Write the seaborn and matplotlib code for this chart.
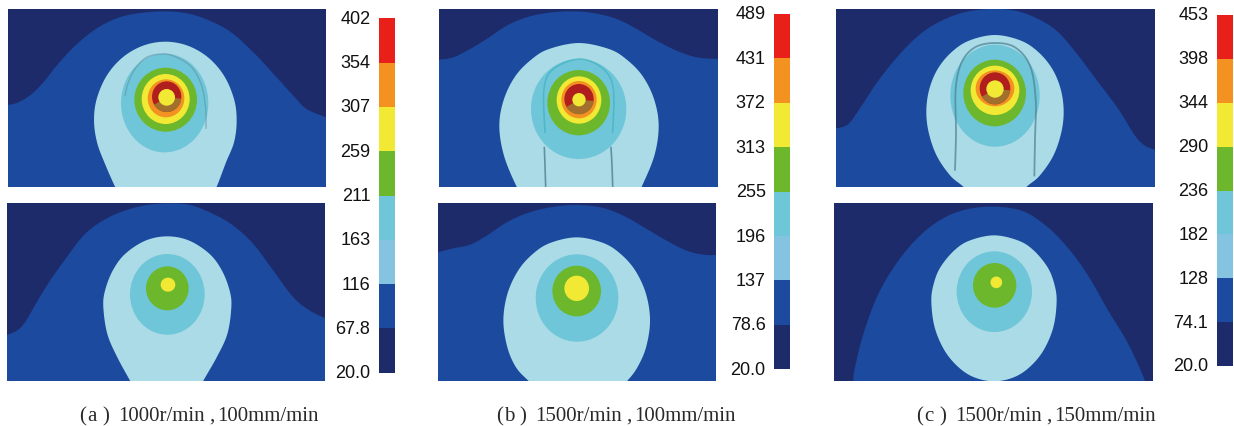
import numpy as np
import matplotlib
matplotlib.use("Agg")
import matplotlib.pyplot as plt
from matplotlib.colors import ListedColormap, BoundaryNorm
from matplotlib.patches import Ellipse, Wedge
import seaborn as sns

sns.set_style("white")
plt.rcParams['font.family'] = ['Liberation Sans', 'DejaVu Sans']

# colours of the 8 bands, hottest first
band_colors = ["#E92019", "#F39220", "#F2E935", "#6DB72C", "#6FC6D8", "#85C4E1", "#1B4A9E", "#1E2B6B"]
light_band = "#AADBE6"
dark_red = "#B01E1E"
brown = "#A2702C"

# legend levels
levels_a = [402, 354, 307, 259, 211, 163, 116, 67.8, 20.0]
levels_b = [489, 431, 372, 313, 255, 196, 137, 78.6, 20.0]
levels_c = [453, 398, 344, 290, 236, 182, 128, 74.1, 20.0]
level_labels_a = ["402", "354", "307", "259", "211", "163", "116", "67.8", "20.0"]
level_labels_b = ["489", "431", "372", "313", "255", "196", "137", "78.6", "20.0"]
level_labels_c = ["453", "398", "344", "290", "236", "182", "128", "74.1", "20.0"]
caption_letters = ["a", "b", "c"]
caption_speeds = ["1000r/min", "1500r/min", "1500r/min"]
caption_feeds = ["100mm/min", "100mm/min", "150mm/min"]

# contour outlines, each panel in its own units
a_top_blue = [(23,318),(55,310),(95,285),(130,250),(170,200),(220,145),(280,95),(340,62),(400,45),(490,37),(570,45),(640,70),(700,105),(770,170),(830,235),(880,290),(920,330),(978,355)]
a_top_light = [(496,128),(429,140),(368,175),(320,230),(290,300),(282,365),(291,430),(313,490),(345,563),(365,600),(630,600),(650,563),(678,490),(702,430),(710,365),(702,300),(672,230),(624,175),(563,140)]
a_bot_blue = [(21,423),(50,410),(75,385),(110,325),(150,260),(200,190),(250,125),(300,85),(360,55),(430,35),(500,28),(570,33),(640,60),(700,95),(760,150),(820,230),(880,310),(930,350),(975,372)]
a_bot_light = [(502,127),(436,140),(375,180),(338,230),(315,290),(310,340),(322,420),(352,490),(390,560),(410,600),(590,600),(610,560),(650,490),(682,420),(694,340),(689,290),(666,230),(629,180),(568,140)]
b_top_blue = [(58,182),(100,175),(150,150),(200,120),(260,80),(320,55),(380,42),(450,37),(520,42),(590,60),(650,90),(710,125),(770,155),(830,175),(893,180)]
b_top_light = [(477,132),(387,150),(336,180),(287,230),(252,300),(238,380),(252,470),(290,563),(320,610),(640,610),(665,563),(703,470),(716,380),(702,300),(667,230),(618,180),(567,150)]
b_bot_blue = [(53,175),(100,163),(150,152),(200,125),(260,85),(320,58),(390,40),(470,33),(550,42),(620,70),(680,105),(740,140),(800,170),(850,182),(887,183)]
b_bot_light = [(470,130),(390,147),(338,180),(294,230),(262,300),(250,380),(262,460),(288,520),(325,560),(370,600),(580,600),(622,560),(652,520),(678,460),(690,380),(678,300),(646,230),(602,180),(550,147)]
c_top_blue = [(33,388),(70,375),(110,320),(160,245),(220,170),(280,110),(340,70),(410,42),(490,30),(570,35),(640,60),(700,100),(760,170),(820,250),(880,330),(930,410),(960,440),(990,452)]
c_top_light = [(510,108),(432,125),(379,160),(338,210),(313,270),(304,335),(311,400),(335,470),(376,530),(415,563),(450,600),(570,600),(605,563),(644,530),(685,470),(709,400),(716,335),(707,270),(682,210),(641,160),(588,125)]
c_bot_blue = [(83,640),(85,560),(90,520),(115,420),(160,300),(220,200),(290,120),(360,70),(430,45),(510,38),(590,50),(650,85),(710,140),(780,230),(850,350),(910,450),(960,560),(985,640)]
c_bot_light = [(507,124),(433,140),(387,170),(346,220),(326,270),(319,322),(329,400),(359,470),(401,520),(448,550),(507,562),(566,550),(613,520),(655,470),(685,400),(695,322),(688,270),(668,220),(627,170),(581,140)]

# rings: centre x, centre y, half width, half height, band index
a_top_rings = [(494,312,131,148,4),(497,302,94,96,3),(497,300,72,75,2),(498,298,55,57,1)]
a_top_core = (500,293,44,46,25)
a_bot_rings = [(502,301,112,121,4),(502,283,64,66,3),(504,272,22,21,2)]
b_top_rings = [(476,330,143,150,4),(476,311,94,98,3),(477,303,67,71,2),(477,302,53,56,1)]
b_top_core = (477,300,44,45,20)
b_bot_rings = [(471,312,124,131,4),(470,291,73,76,3),(470,283,37,38,2)]
c_top_rings = [(510,290,134,153,4),(509,282,94,100,3),(510,274,73,74,2),(510,268,58,54,1)]
c_top_core = (510,268,46,48,26)
c_bot_rings = [(508,293,113,121,4),(509,274,65,67,3),(514,265,17.5,17.5,2)]

# thin arch lines around the tool mark
a_arch = [(618,388),(617,330),(605,260),(575,205),(530,175),(490,165),(440,175),(405,210),(385,250),(375,290)]
b_arch = [(375,400),(372,270),(400,210),(480,180),(550,210),(580,270),(578,400)]
b_leg_l = [(373,445),(375,500),(377,563)]
b_leg_r = [(573,445),(576,500),(578,563)]
c_arch = [(390,513),(393,400),(392,270),(410,190),(450,145),(510,132),(570,145),(615,200),(632,300),(630,420),(628,530)]

W, H = 1234, 427
fig = plt.figure(figsize=(W / 100, H / 100), dpi=100)


def px_axes(x0, y0, x1, y1):
    return fig.add_axes([x0 / W, 1 - y1 / H, (x1 - x0) / W, (y1 - y0) / H])


def smooth(pts, closed=False, n=12):
    # catmull-rom through the read points
    p = np.array(pts, dtype=float)
    if closed:
        p = np.vstack([p[-1], p, p[0], p[1]])
    else:
        p = np.vstack([p[0], p, p[-1]])
    t = np.linspace(0, 1, n, endpoint=False)[:, None]
    out = []
    for i in range(1, len(p) - 2):
        p0, p1, p2, p3 = p[i - 1], p[i], p[i + 1], p[i + 2]
        out.append(0.5 * (2 * p1 + (p2 - p0) * t + (2 * p0 - 5 * p1 + 4 * p2 - p3) * t ** 2
                          + (3 * p1 - p0 - 3 * p2 + p3) * t ** 3))
    out = np.vstack(out)
    return out if closed else np.vstack([out, p[-1]])


def contour_panel(box, xlim, ylim, blue, light, rings, core=None):
    ax = px_axes(*box)
    ax.set_xlim(*xlim)
    ax.set_ylim(ylim[1], ylim[0])
    ax.axis("off")
    ax.add_patch(plt.Rectangle((xlim[0], ylim[0]), xlim[1] - xlim[0], ylim[1] - ylim[0], fc=band_colors[7], ec="none", zorder=0))
    curve = smooth(blue)
    outline = np.vstack([curve, [(xlim[1] + 30, curve[-1][1]), (xlim[1] + 30, ylim[1] + 80), (xlim[0] - 30, ylim[1] + 80), (xlim[0] - 30, curve[0][1])]])
    ax.fill(outline[:, 0], outline[:, 1], color=band_colors[6], lw=0, zorder=1)
    shape = smooth(light, closed=True)
    ax.fill(shape[:, 0], shape[:, 1], color=light_band, lw=0, zorder=2)
    for i, (cx, cy, rx, ry, c) in enumerate(rings):
        ax.add_patch(Ellipse((cx, cy), 2 * rx, 2 * ry, fc=band_colors[c], ec="none", zorder=3 + i))
    if core is not None:
        cx, cy, rx, ry, r = core
        ax.add_patch(Ellipse((cx, cy), 2 * rx, 2 * ry, fc=dark_red, ec="none", zorder=8))
        # lower half of the ring goes brown, axes are flipped so angles run clockwise on screen
        ax.add_patch(Wedge((cx, cy + 2), rx, 5, 150, fc=brown, ec="none", zorder=9))
        ax.add_patch(Ellipse((cx, cy + 2), 2 * r, 2 * r, fc=band_colors[2], ec="none", zorder=10))
    return ax


def arch_line(ax, pts, color, lw=1.0, alpha=0.55):
    p = smooth(pts)
    sns.lineplot(x=p[:, 0], y=p[:, 1], sort=False, estimator=None, color=color, lw=lw, alpha=alpha, ax=ax, zorder=3.5)
    ax.set_xlabel("")
    ax.set_ylabel("")


def colorbar(box, levels, labels):
    ax = px_axes(*box)
    edges = np.array(levels, dtype=float)
    mids = (edges[:-1] + edges[1:]) / 2
    cmap = ListedColormap(band_colors[::-1])
    norm = BoundaryNorm(edges[::-1], cmap.N)
    sns.heatmap(mids.reshape(-1, 1), cmap=cmap, norm=norm, cbar=False, xticklabels=False, ax=ax)
    ax.set_yticks(np.arange(len(labels)))
    ax.set_yticklabels(labels, rotation=0, fontsize=13, color="#111111")
    ax.tick_params(axis="y", length=0, pad=6)
    for lab in ax.get_yticklabels():
        lab.set_clip_on(False)


ax = contour_panel((7.7, 10, 326, 187.7), (23, 978), (30, 563), a_top_blue, a_top_light, a_top_rings, a_top_core)
arch_line(ax, a_arch, "#5f8f9e")
contour_panel((7, 204, 325, 381.7), (21, 975), (27, 560), a_bot_blue, a_bot_light, a_bot_rings)
ax = contour_panel((439.3, 10, 717.7, 187.7), (58, 893), (30, 563), b_top_blue, b_top_light, b_top_rings, b_top_core)
arch_line(ax, b_arch, "#35aebb", lw=1.2)
arch_line(ax, b_leg_l, "#4f7f92", lw=1.2, alpha=0.8)
arch_line(ax, b_leg_r, "#4f7f92", lw=1.2, alpha=0.8)
contour_panel((437.7, 204, 715.7, 381.7), (53, 887), (27, 560), b_bot_blue, b_bot_light, b_bot_rings)
ax = contour_panel((836, 10, 1155, 187.7), (33, 990), (30, 563), c_top_blue, c_top_light, c_top_rings, c_top_core)
arch_line(ax, c_arch, "#4f8595", lw=1.3, alpha=0.75)
contour_panel((834, 204, 1153.3, 381.7), (27, 985), (27, 560), c_bot_blue, c_bot_light, c_bot_rings)

colorbar((378.7, 19.3, 394.7, 373.7), levels_a, level_labels_a)
colorbar((774, 15, 790.3, 370.3), levels_b, level_labels_b)
colorbar((1216.7, 16, 1233, 367), levels_c, level_labels_c)

# captions are spaced out piece by piece, the brackets are wide in the original
for x0, letter, speed, feed in zip([78, 495, 915], caption_letters, caption_speeds, caption_feeds):
    for dx, s, ha in [(1, "(", "left"), (14, letter, "center"), (31, ")", "right"),
                      (40, speed, "left"), (131, ",", "left"), (139, feed, "left")]:
        fig.text((x0 + dx) / W, 1 - 421 / H, s, ha=ha, va="baseline", fontsize=15,
                 family="Liberation Serif", color="#2a2a2a")

fig.savefig("out.png", dpi=100)
